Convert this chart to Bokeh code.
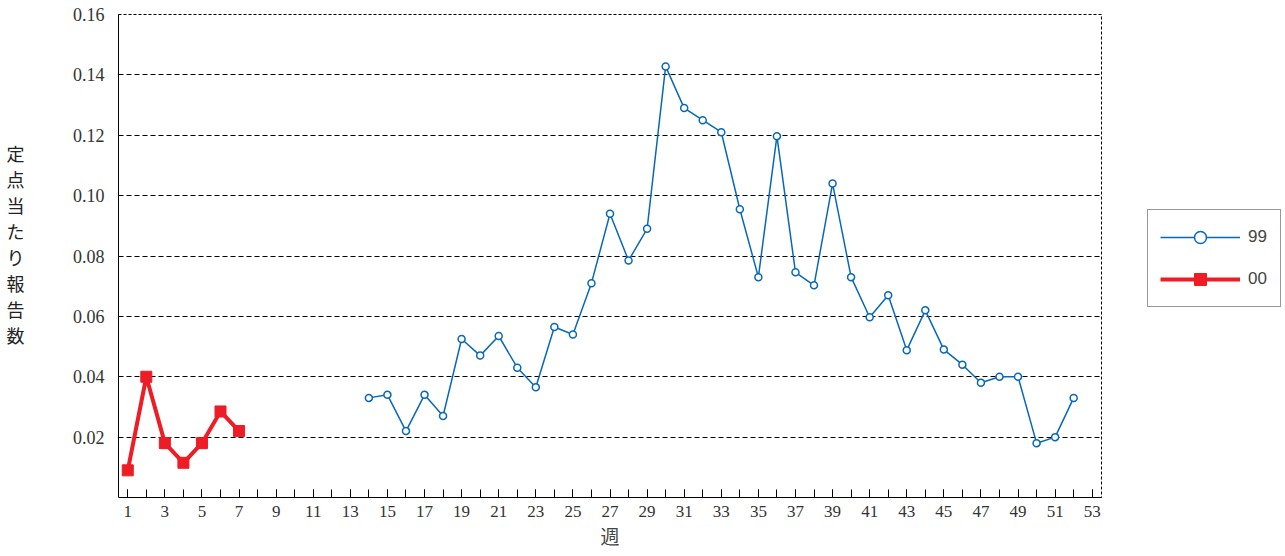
from bokeh.plotting import figure
from bokeh.layouts import row
from bokeh.models import FixedTicker, Legend, LegendItem, Label, Range1d, NumeralTickFormatter
from bokeh.embed import file_html
from bokeh.resources import INLINE

weeks_00 = [1, 2, 3, 4, 5, 6, 7]
vals_00 = [0.009, 0.040, 0.018, 0.0115, 0.018, 0.0285, 0.022]

weeks_99 = list(range(14, 53))
vals_99 = [0.033, 0.034, 0.022, 0.034, 0.027, 0.0525, 0.047, 0.0535, 0.043, 0.0365,
           0.0565, 0.054, 0.071, 0.094, 0.0785, 0.089, 0.1428, 0.129, 0.125, 0.121,
           0.0955, 0.073, 0.1197, 0.0746, 0.0703, 0.104, 0.073, 0.0597, 0.067, 0.0488,
           0.062, 0.049, 0.044, 0.038, 0.040, 0.040, 0.018, 0.020, 0.033]

y_ticks = [0.02, 0.04, 0.06, 0.08, 0.10, 0.12, 0.14, 0.16]
x_ticks = list(range(1, 54, 2))
y_title = "定\n点\n当\nた\nり\n報\n告\n数"

p = figure(frame_width=983, frame_height=483, output_backend="svg", toolbar_location=None,
           x_range=Range1d(0.5, 53.5), y_range=Range1d(0, 0.16),
           min_border_left=78, min_border_top=14, min_border_bottom=45, min_border_right=0)
p.background_fill_color = "white"
p.outline_line_color = "black"
p.outline_line_dash = "3 2"

p.xgrid.grid_line_color = None
p.ygrid.grid_line_color = "black"
p.ygrid.grid_line_dash = "5 3"
p.ygrid.ticker = FixedTicker(ticks=y_ticks)

p.xaxis.ticker = FixedTicker(ticks=x_ticks, minor_ticks=list(range(1, 54)))
p.xaxis.major_tick_in = 8
p.xaxis.major_tick_out = 0
p.xaxis.minor_tick_in = 8
p.xaxis.minor_tick_out = 0
p.xaxis.axis_line_color = "black"
p.xaxis.major_label_text_font = "Liberation Serif"
p.xaxis.major_label_text_font_size = "17px"
p.xaxis.major_label_text_color = "#333333"
p.xaxis.major_label_standoff = 8
p.xaxis.axis_label = "週"
p.xaxis.axis_label_text_font = "Noto Sans CJK JP"
p.xaxis.axis_label_text_font_style = "normal"
p.xaxis.axis_label_text_font_size = "19px"
p.xaxis.axis_label_standoff = 2

p.yaxis.ticker = FixedTicker(ticks=y_ticks)
p.yaxis.formatter = NumeralTickFormatter(format="0.00")
p.yaxis.major_tick_in = 0
p.yaxis.major_tick_out = 0
p.yaxis.minor_tick_line_color = None
p.yaxis.axis_line_color = "black"
p.yaxis.major_label_text_font = "Liberation Serif"
p.yaxis.major_label_text_font_size = "18px"
p.yaxis.major_label_text_color = "#333333"
p.yaxis.major_label_standoff = 14

r99 = p.line(weeks_99, vals_99, line_color="#0868b8", line_width=1.5)
c99 = p.scatter(weeks_99, vals_99, marker="circle", size=7, line_color="#0868b8",
                fill_color="white", line_width=1.5)
r00 = p.line(weeks_00, vals_00, line_color="#ee1c25", line_width=4)
s00 = p.scatter(weeks_00, vals_00, marker="square", size=11, color="#ee1c25")

legend = Legend(items=[LegendItem(label="99", renderers=[r99, c99]),
                       LegendItem(label="00", renderers=[r00, s00])],
                location=(46, 190), border_line_color="#333333", border_line_width=1,
                label_text_font="Liberation Sans", label_text_font_size="17px",
                glyph_width=80, glyph_height=30, spacing=12, padding=12,
                label_standoff=8, margin=0)
p.add_layout(legend, "right")

# vertical Japanese y-axis title in a narrow side figure
t = figure(width=40, height=542, output_backend="svg", toolbar_location=None,
           x_range=Range1d(0, 40), y_range=Range1d(0, 542),
           min_border=0, outline_line_color=None)
t.axis.visible = False
t.grid.visible = False
t.add_layout(Label(x=6, y=398, text=y_title,
                   text_font="Noto Sans CJK JP", text_font_size="18px",
                   text_line_height=1.0, text_baseline="top", text_color="#222222"))

layout = row(t, p)
open("out.html", "w").write(file_html(layout, INLINE))
